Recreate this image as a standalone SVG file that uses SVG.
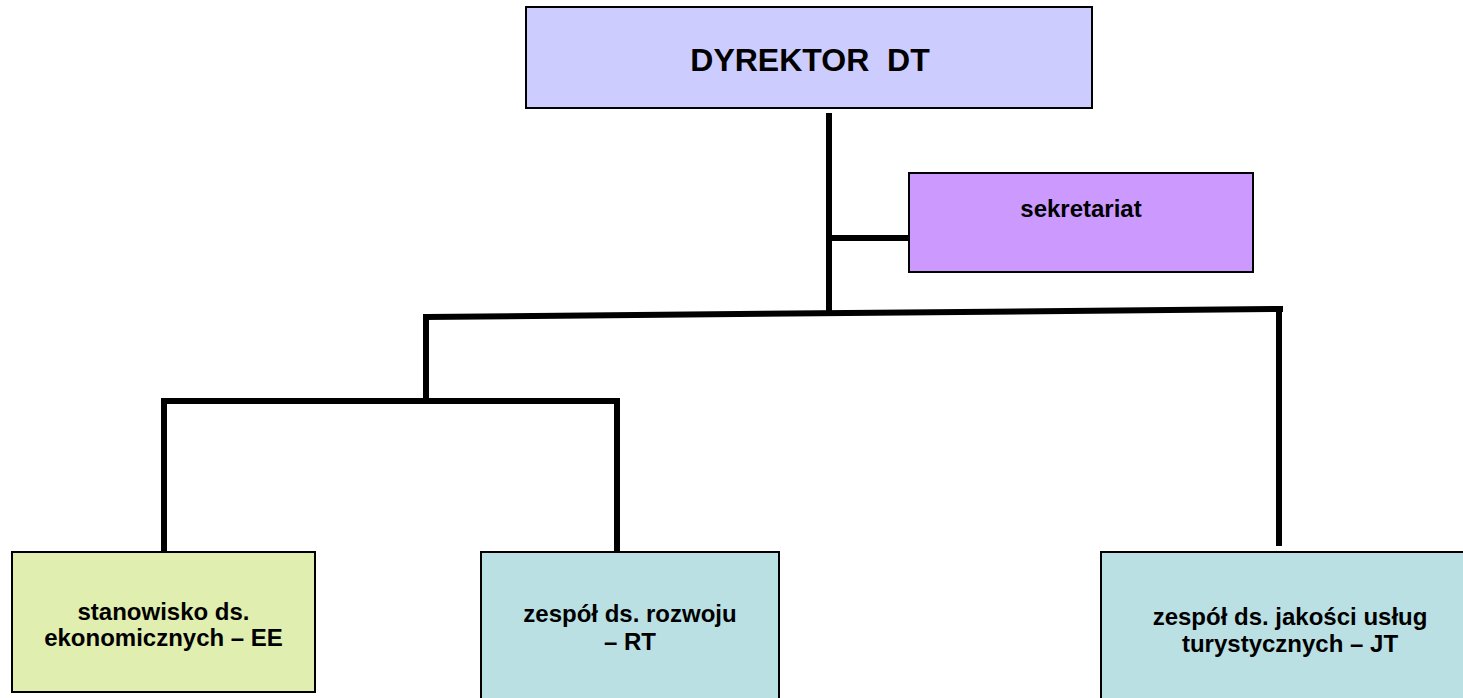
<svg xmlns="http://www.w3.org/2000/svg" width="1463" height="698" viewBox="0 0 1463 698">
<style>
.box{stroke:#000;stroke-width:2}
.t{font-family:"Liberation Sans",Arial,sans-serif;font-weight:bold;fill:#000;text-anchor:middle}
.s{font-size:24px}
.ln{stroke:#000;stroke-width:6;fill:none;stroke-linecap:square}
</style>
<rect width="1463" height="698" fill="#fff"/>
<g id="connectors">
<line class="ln" x1="829" y1="116" x2="829" y2="313"/>
<line class="ln" x1="829" y1="238" x2="909" y2="238"/>
<line class="ln" x1="427" y1="317" x2="1280" y2="309"/>
<line class="ln" x1="1279" y1="309" x2="1279" y2="543"/>
<line class="ln" x1="426" y1="317" x2="426" y2="396"/>
<line class="ln" x1="164" y1="401" x2="617" y2="401"/>
<line class="ln" x1="164" y1="401" x2="164" y2="548"/>
<line class="ln" x1="617" y1="401" x2="617" y2="548"/>
</g>
<g id="dyrektor">
<rect class="box" x="526" y="7" width="566" height="101" fill="#CCCCFF"/>
<text class="t" x="810" y="71" font-size="32" xml:space="preserve" style="white-space:pre">DYREKTOR  DT</text>
</g>
<g id="sekretariat">
<rect class="box" x="909" y="173" width="344" height="99" fill="#CC99FF"/>
<text class="t s" x="1081" y="217">sekretariat</text>
</g>
<g id="ee">
<rect class="box" x="12" y="552" width="303" height="140" fill="#E0EEB0"/>
<text class="t s" x="163.5" y="620">stanowisko ds.</text>
<text class="t s" x="163.5" y="646">ekonomicznych – EE</text>
</g>
<g id="rt">
<rect class="box" x="481" y="552" width="298" height="160" fill="#BBE0E3"/>
<text class="t s" x="630" y="622">zespół ds. rozwoju</text>
<text class="t s" x="630" y="650">– RT</text>
</g>
<g id="jt">
<rect class="box" x="1101" y="552" width="380" height="160" fill="#BBE0E3"/>
<text class="t s" x="1290" y="625">zespół ds. jakości usług</text>
<text class="t s" x="1290" y="652">turystycznych – JT</text>
</g>
</svg>
